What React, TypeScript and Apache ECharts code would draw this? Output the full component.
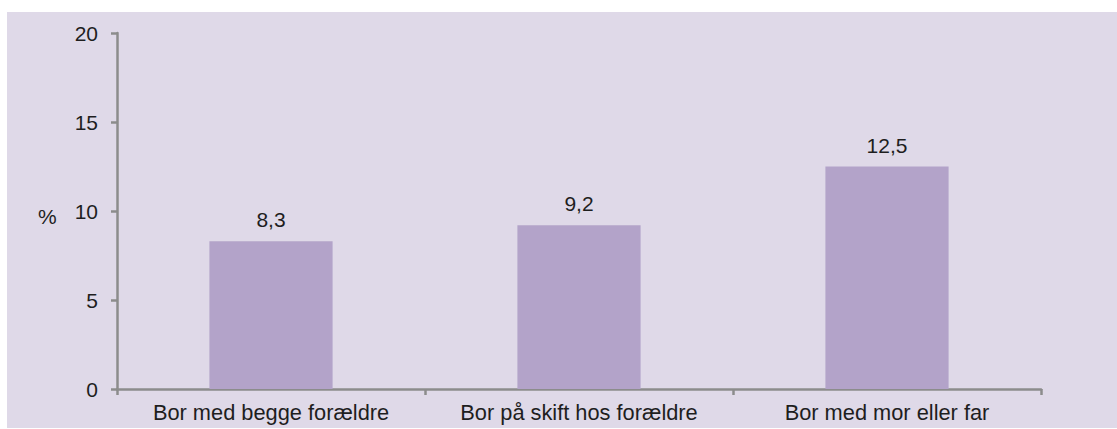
import React, { useEffect, useRef } from "react";
import * as echarts from "echarts";

const categories = ["Bor med begge forældre", "Bor på skift hos forældre", "Bor med mor eller far"];
const values = [8.3, 9.2, 12.5];
const yTicks = { min: 0, max: 20, interval: 5 };

export default function App() {
  const ref = useRef<HTMLDivElement>(null);
  useEffect(() => {
    if (!ref.current) return;
    const chart = echarts.init(ref.current, null, { renderer: "svg" });
    const font = "Liberation Sans, Arial, sans-serif";
    const txt = "#1e1e1e";
    const axis = "#8c8c8c";
    chart.setOption({
      animation: false,
      backgroundColor: "#ffffff",
      graphic: [
        {
          type: "rect",
          z: -10,
          shape: { x: 7, y: 12, width: 1110, height: 416 },
          style: { fill: "#dfd9e8" },
          silent: true,
        },
        {
          type: "text",
          x: 38,
          y: 216,
          style: { text: "%", fontSize: 21, fontFamily: font, fill: txt, verticalAlign: "middle" },
        },
      ],
      grid: { left: 117, right: 76, top: 33, bottom: 40, containLabel: false },
      xAxis: {
        type: "category",
        data: categories,
        axisLine: { show: true, lineStyle: { color: axis, width: 2.5 } },
        axisTick: { show: true, interval: 0, length: 6, lineStyle: { color: axis, width: 2.5 } },
        axisLabel: { interval: 0, hideOverlap: false, fontSize: 21.8, fontFamily: font, color: txt, margin: 12 },
      },
      yAxis: {
        type: "value",
        min: yTicks.min,
        max: yTicks.max,
        interval: yTicks.interval,
        splitLine: { show: false },
        axisLine: { show: true, lineStyle: { color: axis, width: 2.5 } },
        axisTick: { show: true, length: 6, lineStyle: { color: axis, width: 2.5 } },
        axisLabel: { fontSize: 21, fontFamily: font, color: txt, margin: 19 },
      },
      series: [
        {
          type: "bar",
          data: values,
          barWidth: "40%",
          itemStyle: { color: "#b3a3c9" },
          label: {
            show: true,
            position: "top",
            distance: 11,
            fontSize: 21,
            fontFamily: font,
            color: txt,
            formatter: (p: any) => String(p.value).replace(".", ","),
          },
        },
      ],
    });
    return () => chart.dispose();
  }, []);
  return <div ref={ref} style={{ position: "absolute", left: 0, top: 0, width: 1117, height: 429 }} />;
}
